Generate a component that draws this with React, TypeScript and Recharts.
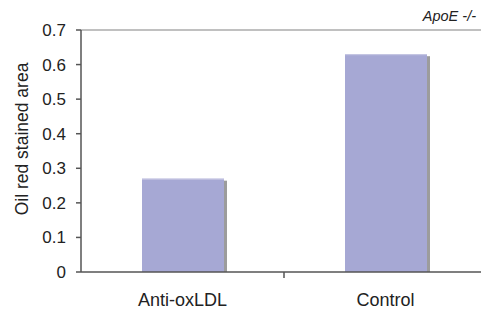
import React from 'react';
import { BarChart, Bar, XAxis, YAxis, ReferenceLine } from 'recharts';

const groups = ['Anti-oxLDL', 'Control'];
const stainedArea = [0.27, 0.63];
const yTicks = [0, 0.1, 0.2, 0.3, 0.4, 0.5, 0.6, 0.7];

const data = groups.map((g, i) => ({ group: g, pos: i + 0.5, area: stainedArea[i] }));

const ShadowBar = (props: any) => {
  const { x, y, width, height } = props;
  if (!height) return null;
  return (
    <g>
      <rect x={x + width} y={y + 2} width={3} height={height - 2} fill="#9c9c9c" />
      <rect x={x} y={y} width={width} height={height} fill="#a6a8d4" />
      <rect x={x} y={y} width={width} height={1} fill="#c8c9e4" />
    </g>
  );
};

const font = 'Arial, "Liberation Sans", sans-serif';

export default function App() {
  return (
    <div style={{ position: 'fixed', left: 0, top: 0, width: 481, height: 309, overflow: 'hidden', background: '#fff', fontFamily: font }}>
      <div style={{ position: 'absolute', right: 5, top: 8, fontSize: 14.5, fontStyle: 'italic', color: '#222' }}>ApoE -/-</div>
      <BarChart width={490} height={309} data={data} margin={{ top: 30, right: 3, bottom: 0, left: 0 }} barSize={82}>
        <ReferenceLine y={0.7} stroke="#c0c0c0" strokeWidth={2} />
        <XAxis dataKey="group" height={37} tickLine={false} tickMargin={15}
          axisLine={{ stroke: '#555', strokeWidth: 1.5 }}
          tick={{ fill: '#222', fontSize: 18, fontFamily: font }} />
        <XAxis xAxisId="sep" type="number" dataKey="pos" domain={[0, 2]} hide />
        {/* tick between the two categories */}
        <ReferenceLine xAxisId="sep" segment={[{ x: 1, y: 0 }, { x: 1, y: -0.017 }]} ifOverflow="visible"
          stroke="#555" strokeWidth={1.5} />
        <YAxis domain={[0, 0.7]} ticks={yTicks} width={81} tickSize={5} tickMargin={10}
          axisLine={{ stroke: '#555', strokeWidth: 1.5 }} tickLine={{ stroke: '#555', strokeWidth: 1.5 }}
          tick={{ fill: '#222', fontSize: 17, fontFamily: font }}
          label={{ value: 'Oil red stained area', angle: -90, position: 'insideLeft', offset: 22, dy: -12, style: { textAnchor: 'middle', fill: '#222', fontSize: 17.5, fontFamily: font } }} />
        <Bar dataKey="area" isAnimationActive={false} shape={<ShadowBar />} />
      </BarChart>
    </div>
  );
}
